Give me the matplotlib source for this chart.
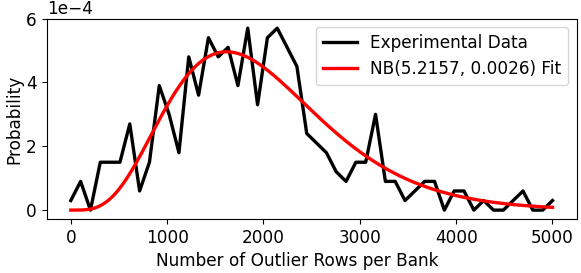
import math
import numpy as np
import matplotlib
matplotlib.use("Agg")
import matplotlib.pyplot as plt

# Experimental data (probability, units of 1e-4), 50 evenly spaced points 0..5000
x_start, x_stop, n_points = 0, 5000, 50
exp_values_e4 = [0.3, 0.9, 0.0, 1.5, 1.5, 1.5, 2.7, 0.6, 1.5, 3.9,
                 3.0, 1.8, 4.8, 3.6, 5.4, 4.8, 5.1, 3.9, 5.7, 3.3,
                 5.4, 5.7, 5.1, 4.5, 2.4, 2.1, 1.8, 1.2, 0.9, 1.5,
                 1.5, 3.0, 0.9, 0.9, 0.3, 0.6, 0.9, 0.9, 0.0, 0.6,
                 0.6, 0.0, 0.3, 0.0, 0.0, 0.3, 0.6, 0.0, 0.0, 0.3]

# Negative binomial fit parameters (from legend)
nb_r = 5.2157
nb_p = 0.0026

x_exp = np.linspace(x_start, x_stop, n_points)
y_exp = np.array(exp_values_e4) * 1e-4

k = np.arange(x_start, x_stop + 1)
log_pmf = np.array([math.lgamma(kk + nb_r) - math.lgamma(kk + 1) - math.lgamma(nb_r)
                    + nb_r * math.log(nb_p) + kk * math.log(1 - nb_p) for kk in k])
y_fit = np.exp(log_pmf)

fs = 12.2
fig = plt.figure(figsize=(5.81, 2.73), dpi=100)
ax = fig.add_axes([0.0804, 0.197, 0.912, 0.735])
ax.plot(x_exp, y_exp, color="black", linewidth=2.4, label="Experimental Data")
ax.plot(k, y_fit, color="red", linewidth=2.4, label=f"NB({nb_r}, {nb_p}) Fit")
ax.set_xlabel("Number of Outlier Rows per Bank", fontsize=fs)
ax.xaxis.set_label_coords(0.472, -0.165)
ax.set_ylabel("Probability", fontsize=fs, labelpad=2)
ax.set_xticks([0, 1000, 2000, 3000, 4000, 5000])
ax.set_yticks([0, 2e-4, 4e-4, 6e-4])
ax.ticklabel_format(axis="y", style="sci", scilimits=(0, 0))
ax.tick_params(labelsize=fs)
ax.yaxis.get_offset_text().set_fontsize(fs)
ax.legend(loc="upper right", fontsize=fs)
fig.savefig("out.png", dpi=100)
